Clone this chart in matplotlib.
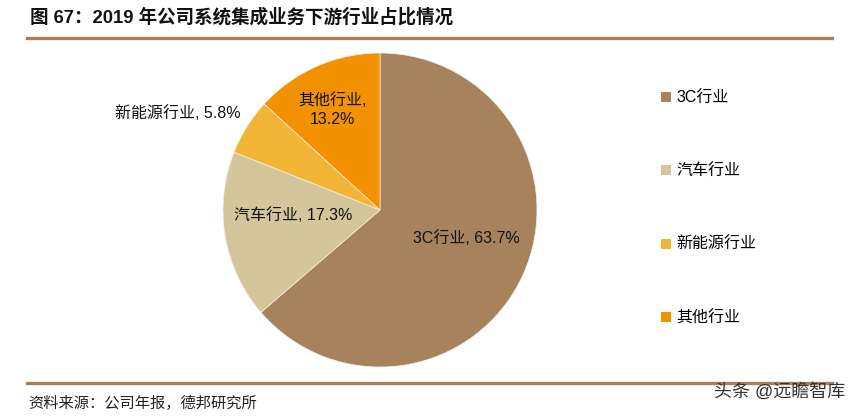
import matplotlib
matplotlib.use("Agg")
import matplotlib.pyplot as plt
from matplotlib.lines import Line2D
from matplotlib.patches import Patch

categories = ["3C行业", "汽车行业", "新能源行业", "其他行业"]
values = [63.7, 17.3, 5.8, 13.2]
colors = ["#A6835C", "#D5C59B", "#F3B536", "#F39200"]
label_text = ["3C行业, 63.7%", "汽车行业, 17.3%", "新能源行业, 5.8%", "其他行业,\n13.2%"]
label_pos = [(0.55, -0.18), (-0.555, -0.03), (-1.29, 0.62), (-0.30, 0.64)]

title = "图 67：2019 年公司系统集成业务下游行业占比情况"
source = "资料来源：公司年报，德邦研究所"
watermark = "头条 @远瞻智库"

FAM = ["Liberation Sans", "Noto Sans CJK SC", "DejaVu Sans"]
plt.rcParams["font.family"] = FAM

W, H = 849, 417
fig = plt.figure(figsize=(W / 100, H / 100), dpi=100)

cx, cy, r = 380, 210, 157
ax = fig.add_axes([(cx - r) / W, (H - cy - r) / H, 2 * r / W, 2 * r / H])
wedges, _ = ax.pie(values, colors=colors, startangle=90, counterclock=False,
                   radius=1.0, wedgeprops=dict(linewidth=0.5, edgecolor="#F5EFE6"))
ax.set_xlim(-1, 1)
ax.set_ylim(-1, 1)
ax.set_aspect("equal")
ax.axis("off")

for txt, (x, y) in zip(label_text, label_pos):
    ax.text(x, y, txt, ha="center", va="center", fontsize=11.5, color="#111111",
            linespacing=1.35, clip_on=False)

# title and lines
fig.text(30 / W, 1 - 17 / H, title, ha="left", va="center", fontsize=13.3,
         fontweight="bold", color="#111111")
fig.add_artist(Line2D([27 / W, 832 / W], [1 - 38 / H, 1 - 38 / H],
                      color="#A67F5C", linewidth=2.4))
fig.add_artist(Line2D([27 / W, 832 / W], [1 - 383 / H, 1 - 383 / H],
                      color="#A67F5C", linewidth=2.4))
fig.text(28 / W, 1 - 403 / H, source, ha="left", va="center", fontsize=11,
         color="#222222")
fig.text(845 / W, 1 - 392 / H, watermark, ha="right", va="center", fontsize=13,
         color="#333333")

# legend
handles = [Patch(facecolor=c, edgecolor="none") for c in colors]
leg = fig.legend(handles, categories, loc="upper left",
                 bbox_to_anchor=(647 / W, 1 - 76 / H), frameon=False,
                 fontsize=11.5, handlelength=0.6, handleheight=0.6,
                 handletextpad=0.35, labelspacing=3.65)

fig.savefig("out.png", dpi=100)
